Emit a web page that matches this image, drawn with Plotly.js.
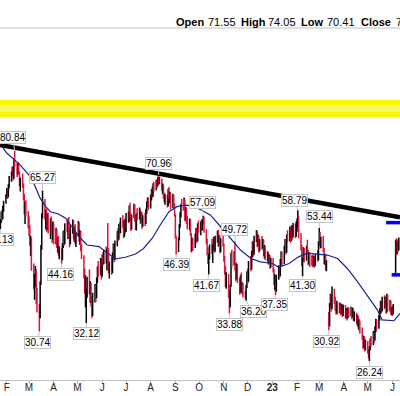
<!DOCTYPE html>
<html><head><meta charset="utf-8">
<script src="https://cdn.plot.ly/plotly-3.0.1.min.js"></script>
<style>html,body{margin:0;padding:0;background:#fff;}#chart{width:400px;height:396px;}</style>
</head><body><div id="chart"></div>
<script>
// ---------- data ----------
const firstTradingDay = '2022-01-24';
const open = [
55.2,55.5,58.0,56.5,59.4, 61.5,63.8,65.0,63.4,67.2, 69.5,71.8,73.2,70.0,77.0, 74.0,71.5,75.0,71.6,67.8,
68.5,66.5,62.8,57.0,60.5, 57.2,54.8,52.5,49.0,50.2, 43.0,39.0,40.5,42.2,36.6, 34.2,33.5,40.0,48.5,57.5,
60.2,56.0,58.0,53.6,56.8, 53.0,55.2,52.0,50.6,54.2, 50.2,52.5,48.2,49.8,46.6, 47.0,45.4,48.5,51.6,49.6,
53.8,53.2,54.3,51.4,49.3, 53.5,55.0,51.3,52.8,49.9, 51.6,54.5,50.5,52.0,47.6, 45.5,41.2,38.5,34.0,38.2,
40.0,38.6,39.0,35.5,34.0, 37.0,38.8,37.0,40.6,42.6, 42.3,44.5,41.8,45.5,44.6, 47.0,45.3,47.8,47.0,42.5,
43.5,42.5,46.0,48.4,45.4, 49.6,51.8,50.8,53.6,52.5, 55.8,54.0,51.6,55.0,52.8, 57.0,55.9,59.4,57.3,53.7,
57.0,60.0,56.3,53.4,57.0, 56.8,58.8,55.6,57.5,54.2, 56.4,55.0,58.4,60.8,62.1, 59.8,63.0,65.0,63.7,67.0,
65.9,68.3,67.2,69.6,68.3, 69.0,66.0,67.0,63.4,62.2, 63.2,60.5,65.0,63.3,64.0, 59.9,63.2,60.2,57.0,50.6,
47.4,50.5,54.3,57.4,60.0, 59.5,61.8,56.3,59.0,55.5, 53.8,55.3,51.5,47.8,50.0, 48.4,51.2,52.7,50.2,54.0,
53.0,54.7,53.4,55.6,56.2, 52.4,49.8,47.0,44.2,46.3, 48.2,47.4,48.2,50.2,47.7, 50.6,52.0,49.2,50.8,47.5,
50.0,48.6,45.4,42.4,39.9, 41.2,37.0,35.6,39.4,46.0, 44.3,47.0,43.0,41.0,43.5, 40.1,38.2,41.0,38.7,39.3,
37.6,37.0,39.2,41.6,40.5, 44.0,43.3,46.6,49.0,46.8, 50.6,52.0,49.1,50.8,47.7, 49.6,48.5,49.7,46.9,48.0,
45.8,46.5,44.7,45.8,43.8, 45.0,42.4,40.1,40.8,38.3, 41.4,43.0,41.8,44.6,46.4, 44.5,47.8,49.6,47.3,50.9,
50.3,53.0,50.3,53.5,51.2, 54.1,51.5,54.6,54.2,56.2, 51.0,48.2,44.0,45.2,47.5, 45.4,48.0,47.0,44.6,46.3,
44.2,45.6,44.0,45.3,43.9, 46.0,45.5,49.5,51.7,48.6, 50.3,47.4,44.8,45.9,43.0, 33.8,32.0,35.5,36.8,35.0,
37.5,36.4,35.0,34.2,35.6, 34.3,35.3,34.1,35.0,33.8, 35.0,33.6,34.2,33.2,34.4, 33.7,34.6,33.4,34.3,33.1,
33.6,32.6,33.0,31.7,32.2, 30.9,29.6,28.6,29.4,28.2, 28.8,27.5,26.8,28.2,29.0, 28.8,30.2,29.5,31.0,32.3,
31.5,33.1,34.2,35.6,34.5, 36.4,35.2,36.4,34.4,37.0, 35.0,35.8,34.2,34.4,34.0, 42.8,49.3,47.0,49.2,47.8
];
const high = [
56.1,58.4,58.9,60.2,61.8, 64.0,66.2,65.9,67.5,70.6, 72.3,74.2,74.0,77.6,80.84, 75.5,76.0,75.8,72.4,69.9,
71.5,67.8,64.1,61.5,62.0, 58.5,56.9,54.2,51.3,50.8, 44.2,41.8,43.6,42.9,38.8, 35.6,40.2,48.8,57.8,65.27,
62.4,58.9,59.3,57.8,58.0, 56.3,56.8,54.9,55.4,55.0, 53.5,53.1,50.9,51.2,48.5, 48.1,49.3,52.6,52.9,54.8,
56.2,55.3,56.7,53.0,54.5, 55.9,55.6,53.8,54.5,52.0, 55.5,55.1,52.9,52.6,49.0, 46.2,43.0,41.5,38.6,41.2,
42.8,40.2,39.8,37.2,37.8, 39.6,39.4,41.0,43.5,44.8, 45.5,45.2,46.4,47.0,47.6, 48.4,47.9,54.9,48.0,44.6,
45.8,46.9,49.2,49.0,50.0, 52.6,53.4,54.6,55.0,56.5, 57.2,55.6,55.9,56.2,57.9, 58.4,60.3,61.2,58.0,57.4,
60.8,60.6,57.4,57.8,59.4, 59.6,59.2,58.3,58.0,57.2, 58.0,59.2,61.6,63.0,62.8, 63.9,65.8,66.7,67.9,68.4,
69.2,69.4,70.3,70.96,70.2, 69.6,67.8,67.5,64.5,64.0, 63.8,65.9,66.5,64.9,64.6, 64.2,63.8,61.0,57.6,51.3,
50.8,54.6,58.2,60.8,62.4, 62.9,62.2,59.8,59.6,57.0, 56.2,56.0,52.0,50.8,50.6, 51.9,53.5,53.2,54.8,55.6,
55.4,56.0,55.9,57.09,56.8, 53.1,50.5,48.3,46.6,48.9, 50.4,49.0,51.0,50.8,51.3, 52.7,52.9,51.5,51.3,50.6,
51.8,49.2,46.0,43.6,42.2, 41.8,38.2,39.5,46.8,47.6, 47.2,49.72,44.5,44.2,44.0, 41.0,41.6,42.1,40.0,39.8,
38.2,39.4,42.4,43.0,44.8, 46.0,47.3,49.8,49.6,51.3, 52.9,52.6,51.6,51.2,50.3, 51.2,50.4,50.1,48.8,48.5,
47.2,47.0,46.4,46.2,45.6, 45.5,43.0,41.8,41.3,41.6, 43.8,43.6,45.3,47.2,47.0, 48.6,50.4,50.2,51.6,52.8,
53.9,53.6,54.2,54.0,54.9, 54.7,55.3,56.2,58.79,56.9, 52.0,48.8,45.6,48.2,48.0, 48.6,50.2,47.6,47.0,46.9,
46.2,46.4,46.0,45.8,46.5, 47.5,49.8,53.44,52.3,51.0, 51.2,48.0,46.6,46.3,45.0, 34.1,35.8,37.6,37.3,39.1,
38.6,37.0,35.6,36.2,36.0, 35.9,35.8,35.6,35.4,35.5, 35.4,34.8,34.6,35.0,34.9, 35.1,35.0,34.9,34.7,34.2,
34.0,33.6,33.4,32.8,32.6, 31.4,30.2,30.0,29.8,29.4, 29.2,28.0,28.4,29.6,30.0, 30.8,30.6,31.6,32.9,32.8,
33.6,34.8,36.2,36.1,37.0, 37.3,37.0,36.8,37.6,37.4, 36.4,36.2,35.0,35.2,35.6, 50.2,50.6,49.9,50.4,50.8
];
const low = [
53.13,54.9,55.6,56.0,58.3, 60.8,62.9,62.4,63.0,66.1, 68.4,70.5,68.9,69.5,74.1, 70.2,71.0,71.2,66.8,65.0,
66.2,62.0,57.5,54.6,56.9, 53.4,51.2,48.6,46.0,42.5, 38.5,36.4,38.9,35.6,34.0, 30.74,33.0,39.4,47.6,56.2,
55.8,53.1,52.4,52.8,51.9, 50.4,51.6,49.3,50.1,49.0, 48.9,48.0,46.8,46.1,45.2, 44.16,45.0,48.0,48.6,49.0,
52.3,50.4,51.0,48.2,49.0, 51.8,50.3,49.6,49.0,48.3, 51.0,49.6,48.8,47.2,45.3, 40.8,37.6,35.0,32.12,36.8,
37.5,35.8,35.1,33.0,33.4, 35.9,36.0,36.7,39.8,41.2, 41.5,40.6,41.2,43.8,44.0, 44.2,42.6,46.5,42.0,40.8,
41.6,42.0,45.2,44.5,45.0, 48.5,49.8,50.2,51.5,52.0, 53.5,50.6,51.0,51.9,52.3, 54.9,55.2,56.3,52.6,53.1,
56.4,55.3,52.9,52.7,55.8, 55.9,54.6,54.9,53.2,53.8, 54.0,54.6,57.7,59.6,58.8, 59.3,61.9,62.8,63.2,64.9,
65.4,66.2,66.8,67.4,67.5, 65.2,64.0,62.5,61.3,60.5, 59.6,60.0,62.4,61.0,59.0, 59.4,59.9,56.8,50.5,46.39,
47.0,50.0,53.6,56.5,58.6, 58.6,55.4,55.6,54.6,53.0, 52.8,51.2,46.9,47.2,47.3, 48.0,49.5,49.3,49.8,52.2,
51.4,52.5,52.8,54.6,52.1, 49.0,46.2,44.1,41.67,45.2, 46.5,44.3,47.3,46.8,47.1, 49.4,48.3,48.6,46.6,47.0,
48.4,44.6,41.6,39.0,38.6, 36.8,33.88,35.0,39.0,43.4, 43.8,42.6,40.2,40.6,39.8, 37.4,37.8,38.0,37.5,36.9,
36.6,36.20,38.8,39.6,40.1, 42.4,42.8,45.8,45.9,46.3, 49.6,48.2,48.5,46.8,47.2, 47.6,47.9,46.0,45.4,45.0,
44.7,43.9,44.2,43.0,43.2, 42.1,39.4,38.3,37.35,38.0, 40.5,40.9,41.3,43.9,43.6, 44.0,47.0,46.4,46.8,49.5,
49.8,49.4,49.9,50.3,50.8, 50.6,51.0,52.4,53.8,50.6, 47.4,43.6,41.30,44.6,44.5, 44.9,46.6,43.8,44.0,43.4,
43.7,43.3,43.5,43.2,43.6, 44.6,45.0,48.6,47.8,48.0, 47.0,44.0,43.9,42.6,42.4, 30.92,31.6,34.9,34.2,34.6,
35.6,34.3,33.6,33.8,33.7, 33.9,33.5,33.7,33.2,33.4, 33.0,32.9,32.6,33.0,33.1, 33.3,32.8,33.1,32.5,32.4,
32.0,31.6,31.2,30.9,30.4, 29.4,28.0,28.2,27.6,27.8, 27.3,26.6,26.24,27.8,28.3, 28.6,28.9,29.3,30.6,30.9,
31.2,32.6,33.8,33.9,34.2, 34.6,34.9,33.8,34.0,34.3, 34.2,33.6,33.5,33.4,33.7, 41.7,46.2,46.5,47.1,47.4
];
const close = [
55.8,57.9,56.2,59.6,61.2, 63.6,65.4,63.1,66.9,69.8, 71.6,73.5,69.6,76.8,75.2, 71.0,75.4,72.0,67.5,68.9,
67.0,62.6,58.2,60.8,57.6, 54.3,52.0,49.5,50.6,43.3, 39.4,40.9,42.8,36.2,34.8, 33.1,39.6,48.0,56.9,61.0,
56.6,58.2,53.0,57.1,52.6, 55.6,52.3,50.2,54.7,49.8, 52.8,48.6,50.1,46.9,47.8, 45.0,48.8,52.0,49.3,54.1,
52.9,54.6,51.7,49.0,53.9, 55.2,51.0,53.1,49.6,51.4, 54.9,50.2,52.3,47.9,46.0, 41.5,38.2,40.6,37.9,40.5,
38.3,39.5,35.7,33.6,37.2, 39.1,36.6,40.4,42.9,41.8, 44.9,41.4,45.8,44.3,47.1, 45.0,47.5,47.2,42.8,43.9,
42.2,46.3,48.6,45.1,49.5, 52.0,50.5,54.0,52.2,56.0, 54.2,51.4,55.3,52.5,57.4, 55.6,59.7,57.0,53.4,56.8,
60.2,56.0,53.6,57.2,56.5, 59.0,55.3,57.8,53.9,56.7, 54.7,58.6,61.0,62.4,59.5, 63.3,65.2,63.4,67.3,65.6,
68.6,66.9,69.8,68.0,69.5, 65.8,67.2,63.1,61.9,63.5, 60.2,65.3,63.0,64.4,59.6, 63.6,60.5,57.4,51.2,47.2,
50.3,54.1,57.6,60.2,59.3, 62.2,56.0,59.2,55.2,53.6, 55.6,51.8,47.5,50.3,48.0, 51.4,53.0,49.9,54.2,52.8,
54.9,53.1,55.4,56.5,52.7, 49.6,46.8,44.6,46.0,48.4, 47.1,48.5,50.4,47.4,50.8, 52.2,48.9,51.0,47.2,50.1,
49.0,45.2,42.1,39.6,41.6, 37.4,35.2,39.0,46.2,44.0, 46.8,43.2,40.8,43.7,40.3, 37.9,41.1,38.5,39.5,37.4,
37.2,39.0,41.9,40.2,44.2, 43.0,46.8,49.2,46.5,50.8, 52.3,48.8,51.1,47.4,49.8, 48.2,50.0,46.6,48.3,45.6,
46.8,44.4,46.0,43.5,45.1, 42.6,39.9,41.2,38.0,41.1, 43.3,41.5,44.8,46.7,44.2, 48.1,49.8,47.0,51.1,50.1,
53.3,50.0,53.8,50.9,54.4, 51.2,54.8,55.7,56.6,51.2, 48.0,44.2,45.0,47.7,45.1, 48.1,47.2,44.4,46.5,44.0,
45.8,43.8,45.5,43.7,46.1, 45.2,49.3,52.0,48.4,50.5, 47.6,44.6,46.1,43.1,44.4, 31.8,35.3,37.0,34.8,37.8,
36.1,34.8,34.0,35.8,34.1, 35.5,33.9,35.2,33.6,35.1, 33.4,34.4,33.0,34.6,33.5, 34.8,33.2,34.5,32.9,33.8,
32.4,33.2,31.5,32.4,30.8, 29.8,28.4,29.6,28.0,29.0, 27.7,27.0,28.0,29.2,28.6, 30.4,29.3,31.2,32.5,31.3,
33.3,34.4,35.8,34.3,36.6, 35.0,36.6,34.2,37.2,34.7, 36.0,34.0,34.6,33.9,35.2, 49.6,46.8,49.4,47.6,50.3
];

// moving average line
const maDates = ['2022-01-26','2022-02-01','2022-02-18','2022-03-03','2022-03-09','2022-03-15','2022-03-22','2022-03-28',
 '2022-04-07','2022-04-16','2022-04-24','2022-05-03','2022-05-13','2022-05-28','2022-06-07','2022-06-18','2022-06-30',
 '2022-07-13','2022-07-23','2022-08-03','2022-08-13','2022-08-24','2022-09-03','2022-09-14','2022-09-24','2022-10-03',
 '2022-10-15','2022-10-28','2022-11-09','2022-11-22','2022-12-05','2022-12-17','2023-01-01','2023-01-09','2023-01-22',
 '2023-02-03','2023-02-14','2023-02-26','2023-03-11','2023-03-24','2023-04-05','2023-04-18','2023-04-30','2023-05-13',
 '2023-05-19','2023-06-03','2023-06-11'];
const maValues = [82.8,79.8,74.8,70.2,66.5,62.7,59.9,58.3,
 57.6,56.3,53.8,51.0,48.8,48.4,46.8,45.3,45.7,
 46.5,47.9,50.6,54.3,58.3,59.9,60.4,60.1,58.8,
 57.3,53.8,50.6,47.5,45.4,44.6,44.2,43.3,44.2,
 45.8,46.7,46.5,46.25,45.4,43.1,40.1,37.3,34.5,
 32.7,32.55,33.9];

// trend line
const trendDates = ['2022-01-23 12:00','2023-06-10 12:00'];
const trendValues = [83.3, 56.6];

// gap marker levels
const gapUpperDates = ['2023-05-24','2023-06-11'];
const gapUpperValues = [55.0, 55.0];
const gapLowerDates = ['2023-05-31','2023-06-11'];
const gapLowerValues = [41.6, 41.6];

// high / low call-outs
const calloutDates = ['2022-01-24','2022-02-11','2022-03-18','2022-03-14','2022-04-11','2022-05-12','2022-08-11',
 '2022-09-02','2022-10-06','2022-10-13','2022-11-15','2022-11-08','2022-11-29','2023-01-05','2023-02-02',
 '2023-02-08','2023-03-01','2023-03-13','2023-05-03'];
const calloutValues = [53.13,80.84,65.27,30.74,44.16,32.12,70.96,46.39,57.09,41.67,49.72,33.88,36.20,37.35,58.79,
 41.30,53.44,30.92,26.24];

// x tick labels
const monthTicks = ['2022-02-01','2022-03-01','2022-04-01','2022-05-01','2022-06-01','2022-07-01','2022-08-01',
 '2022-09-01','2022-10-01','2022-11-01','2022-12-01','2023-01-01','2023-02-01','2023-03-01','2023-04-01',
 '2023-05-01','2023-06-01'];
const monthLabels = ['F','M','A','M','J','J','A','S','O','N','D','<b>23</b>','F','M','A','M','J'];

// header
const headerNames = ['Open','High','Low','Close'];
const headerValues = ['71.55','74.05','70.41','73.62'];

// ---------- presentation ----------
const calloutOffsets = [[-4,10],[-2,-13],[0,-13],[-2,11],[-1,11],[0,10],[0,-11],[0,10],[-1,-13],[-2,11],
 [0,-12],[0,11],[7,11],[-1,9],[-3,-10],[0,9.5],[0,-11.5],[-2,11],[0,11]];
const headerNamePx = [175,240,300,360];
const headerValuePx = [207,267,326,395];

function tradingDays(start, n){
  const out=[]; const p=start.split('-').map(Number);
  let d=new Date(Date.UTC(p[0],p[1]-1,p[2]));
  while(out.length<n){
    const w=d.getUTCDay();
    if(w!==0 && w!==6) out.push(d.toISOString().slice(0,10));
    d=new Date(d.getTime()+86400000);
  }
  return out;
}
const dates = tradingDays(firstTradingDay, open.length);

const traces = [
  {type:'ohlc', x:dates, open:open, high:high, low:low, close:close,
   increasing:{line:{color:'#000000', width:1.5}}, decreasing:{line:{color:'#dc143c', width:1.5}},
   tickwidth:0.3, hoverinfo:'skip'},
  {type:'scatter', mode:'lines', x:maDates, y:maValues, line:{color:'#1f1f96', width:1.2}, hoverinfo:'skip'},
  {type:'scatter', mode:'lines', x:trendDates, y:trendValues, line:{color:'#000000', width:4.5}, hoverinfo:'skip'},
  {type:'scatter', mode:'lines', x:gapUpperDates, y:gapUpperValues, line:{color:'#0000ff', width:3.5}, hoverinfo:'skip'},
  {type:'scatter', mode:'lines', x:gapLowerDates, y:gapLowerValues, line:{color:'#0000ff', width:3.5}, hoverinfo:'skip'}
];

const annotations = [];
calloutDates.forEach((d,i)=>{
  annotations.push({x:d, y:Math.log10(calloutValues[i]), xref:'x', yref:'y',
    text:calloutValues[i].toFixed(2), showarrow:true, arrowhead:0, arrowwidth:1, arrowcolor:'#c4c4c4',
    ax:calloutOffsets[i][0], ay:calloutOffsets[i][1], standoff:0,
    bgcolor:'#ffffff', bordercolor:'#c4c4c4', borderwidth:1, borderpad:0,
    font:{family:'Arial, Liberation Sans, sans-serif', size:10, color:'#000'}});
});
const headerY = (380-22)/352;
headerNames.forEach((n,i)=>{
  annotations.push({xref:'paper', yref:'paper', x:(headerNamePx[i]-1)/400, y:headerY, xanchor:'left', yanchor:'middle',
    text:'<b>'+n+'</b>', showarrow:false, font:{family:'Arial, Liberation Sans, sans-serif', size:11, color:'#000'}});
  annotations.push({xref:'paper', yref:'paper', x:(headerValuePx[i]-1)/400, y:headerY, xanchor:'left', yanchor:'middle',
    text:headerValues[i], showarrow:false, font:{family:'Arial, Liberation Sans, sans-serif', size:11, color:'#000'}});
});

const layout = {
  width:400, height:396,
  margin:{l:0, r:0, t:28, b:16, pad:0},
  paper_bgcolor:'#ffffff', plot_bgcolor:'#ffffff',
  showlegend:false,
  xaxis:{type:'date', range:['2022-01-23 12:00','2023-06-10 12:00'], rangeslider:{visible:false},
    showgrid:false, zeroline:false, tickmode:'array', tickvals:monthTicks, ticktext:monthLabels,
    ticks:'outside', ticklen:3, tickcolor:'#b4b4b4', showline:true, linecolor:'#c0c0c0', linewidth:1,
    ticklabelstandoff:-5,
    tickfont:{family:'Arial, Liberation Sans, sans-serif', size:10, color:'#222'}},
  yaxis:{type:'log', range:[Math.log10(23.71), Math.log10(155.7)], showgrid:false, zeroline:false,
    showticklabels:false, ticks:'', showline:false},
  shapes:[
    {type:'rect', xref:'paper', yref:'paper', x0:0, x1:1, y0:0.7472, y1:0.7955, fillcolor:'#f8f800', line:{width:0}, layer:'below'},
    {type:'rect', xref:'paper', yref:'paper', x0:0, x1:1, y0:0.7614, y1:0.78125, fillcolor:'#f8f866', line:{width:0}, layer:'below'},
    {type:'line', xref:'paper', yref:'paper', x0:0, x1:1, y0:1, y1:1, line:{color:'#c0c0c0', width:1}}
  ],
  annotations:annotations
};

Plotly.newPlot('chart', traces, layout, {displayModeBar:false, staticPlot:true});
</script>
</body></html>
